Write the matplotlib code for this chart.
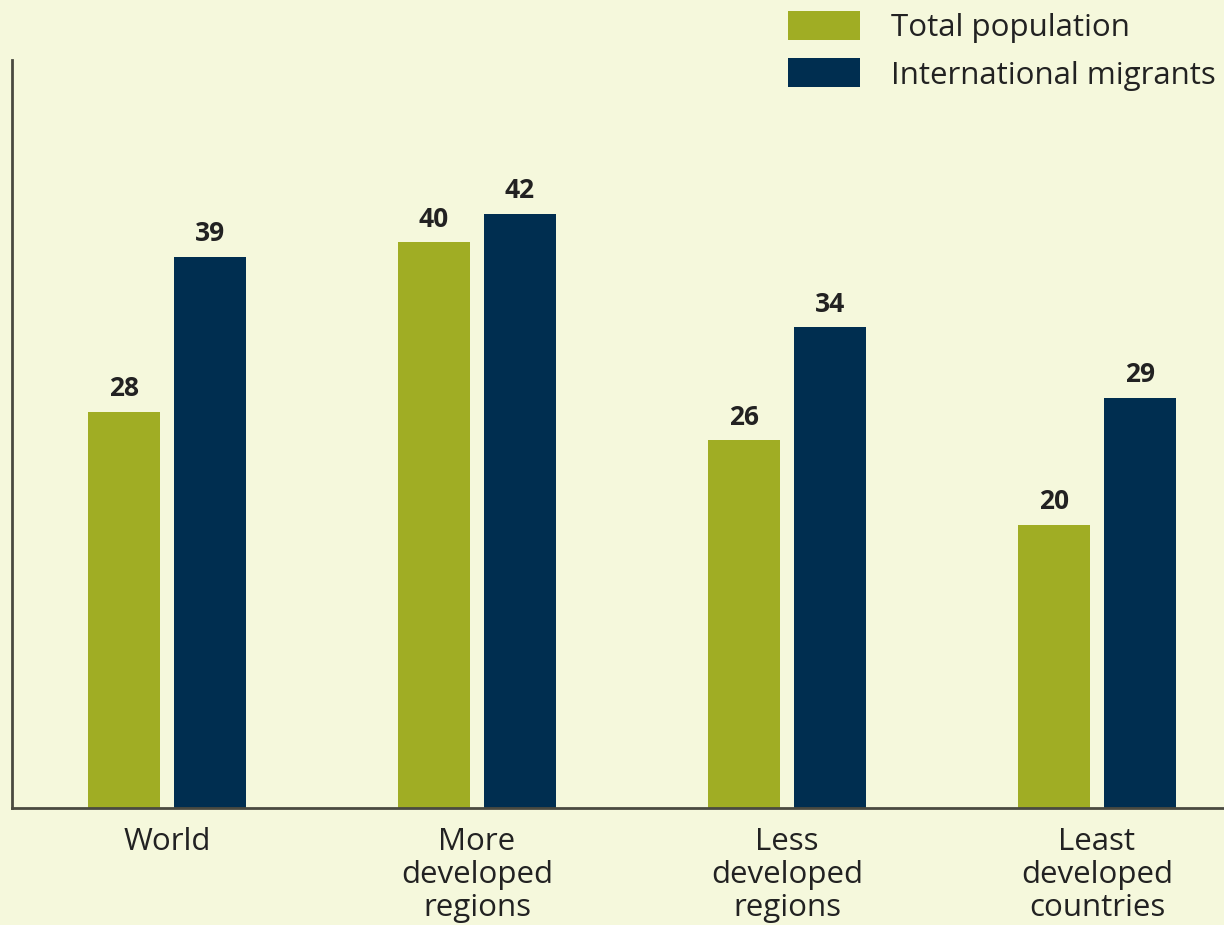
import matplotlib
matplotlib.use('Agg')
import matplotlib.pyplot as plt
import numpy as np

categories = ['World', 'More\ndeveloped\nregions', 'Less\ndeveloped\nregions', 'Least\ndeveloped\ncountries']
total_population = [28, 40, 26, 20]
international_migrants = [39, 42, 34, 29]
series_names = ['Total population', 'International migrants']

bg = '#F5F8DC'
green = '#A0AD24'
navy = '#002E50'

plt.rcParams['font.family'] = ['Open Sans', 'DejaVu Sans']

fig = plt.figure(figsize=(12.24, 9.25), dpi=100, facecolor=bg)
ax = fig.add_axes([12/1224, 117/925, 1 - 12/1224, 748/925])
ax.set_facecolor(bg)

x = np.arange(len(categories))
w = 0.232
off = 0.139

b1 = ax.bar(x - off, total_population, w, color=green, label=series_names[0])
b2 = ax.bar(x + off, international_migrants, w, color=navy, label=series_names[1])

# value labels above each bar
for bars, vals in [(b1, total_population), (b2, international_migrants)]:
    for b, v in zip(bars, vals):
        ax.annotate(str(v), (b.get_x() + b.get_width()/2, v), xytext=(0, 7),
                    textcoords='offset points', ha='center', va='bottom',
                    fontsize=19, fontweight='bold', color='#222222')

ax.set_xlim(-0.5, 3.41)
ax.set_ylim(0, 52.9)
ax.set_xticks(x)
ax.set_xticklabels(categories, fontsize=22.5, color='#222222', linespacing=1.12)
ax.tick_params(axis='x', length=0, pad=14)
ax.set_yticks([])

for s in ['top', 'right']:
    ax.spines[s].set_visible(False)
for s in ['left', 'bottom']:
    ax.spines[s].set_color('#4a4a40')
    ax.spines[s].set_linewidth(2)

fig.legend(handles=[b1, b2], labels=series_names, loc='upper right',
           bbox_to_anchor=(1.0, 0.997), frameon=False, fontsize=22.5,
           handlelength=2.3, handleheight=1.05, handletextpad=1.0,
           labelspacing=0.5, borderaxespad=0.05, borderpad=0.2,
           labelcolor='#222222')

fig.savefig('out.png', dpi=100, facecolor=bg)
